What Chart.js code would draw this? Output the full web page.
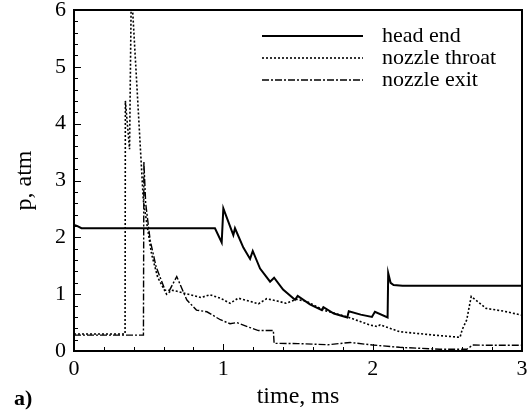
<!DOCTYPE html>
<html>
<head>
<meta charset="utf-8">
<script src="https://cdn.jsdelivr.net/npm/chart.js@4"></script>
<style>
  html, body { margin: 0; padding: 0; background: #fff; }
  #wrap { width: 531px; height: 411px; }
</style>
</head>
<body>
<div id="wrap"><canvas id="pressureChart"></canvas></div>
<script>
// ===== Data =====
const seriesNames = ['head end', 'nozzle throat', 'nozzle exit'];

const headTime = [0, 0.02, 0.05, 0.944, 0.989, 1.0, 1.067, 1.078, 1.134, 1.179, 1.197, 1.246, 1.313, 1.34, 1.40, 1.48, 1.498,
  1.58, 1.66, 1.67, 1.74, 1.83, 1.84, 1.92, 1.995, 2.015, 2.1, 2.104, 2.12, 2.14, 2.2, 3.0];
const headP = [2.22, 2.2, 2.16, 2.16, 1.91, 2.51, 2.04, 2.16, 1.82, 1.62, 1.76, 1.45, 1.22, 1.29, 1.08, 0.90, 0.97,
  0.82, 0.72, 0.77, 0.66, 0.59, 0.70, 0.64, 0.60, 0.69, 0.59, 1.37, 1.2, 1.16, 1.15, 1.15];

const throatTime = [0, 0.342, 0.344, 0.372, 0.384, 0.464, 0.49, 0.52, 0.56, 0.62, 0.655, 0.69, 0.78, 0.85, 0.91, 0.98,
  1.045, 1.10, 1.17, 1.235, 1.29, 1.36, 1.42, 1.49, 1.56, 1.67, 1.83, 1.98, 2.03, 2.05, 2.18, 2.41, 2.585, 2.60,
  2.63, 2.66, 2.76, 2.88, 3.0];
const throatP = [0.3, 0.3, 4.4, 3.55, 6.4, 2.66, 2.2, 1.7, 1.3, 1.0, 1.07, 1.05, 0.99, 0.94, 0.99, 0.93,
  0.84, 0.93, 0.88, 0.83, 0.92, 0.88, 0.84, 0.91, 0.87, 0.72, 0.60, 0.46, 0.43, 0.46, 0.34, 0.28, 0.24, 0.38,
  0.55, 0.96, 0.75, 0.70, 0.63];

const exitTime = [0, 0.465, 0.468, 0.48, 0.51, 0.55, 0.61, 0.64, 0.688, 0.755, 0.82, 0.89, 0.98, 1.045, 1.09, 1.17,
  1.235, 1.335, 1.34, 1.5, 1.7, 1.85, 2.0, 2.18, 2.45, 2.63, 2.67, 2.8, 3.0];
const exitP = [0.28, 0.28, 3.33, 2.6, 1.95, 1.48, 1.07, 1.07, 1.31, 0.9, 0.72, 0.69, 0.55, 0.48, 0.5, 0.42,
  0.36, 0.36, 0.135, 0.13, 0.11, 0.15, 0.105, 0.065, 0.03, 0.03, 0.105, 0.1, 0.1];

const timeRange = [0, 3];
const pressureRange = [0, 6];

const SERIF = '"Liberation Serif", "DejaVu Serif", serif';

function toPoints(ts, ps) {
    return ts.map((t, i) => ({ x: t, y: ps[i] }));
}

const dashes = [[], [2, 2], [7, 2, 2, 2]];
const widths = [2, 1.6, 1.4];

// ===== Frame, inward ticks, legend =====
const framePlugin = {
    id: 'framePlugin',
    afterDatasetsDraw(chart) {
        const { ctx, chartArea: a, scales: { x, y } } = chart;
        ctx.save();
        ctx.strokeStyle = '#000';
        ctx.lineWidth = 1;
        ctx.setLineDash([]);
        for (let i = 0; i <= 15; i++) {
            const px = Math.round(x.getPixelForValue(i * 0.2)) + 0.5;
            const len = i % 5 === 0 ? 7 : 4;
            ctx.beginPath();
            ctx.moveTo(px, a.bottom);
            ctx.lineTo(px, a.bottom - len);
            ctx.stroke();
        }
        for (let i = 0; i <= 30; i++) {
            const py = Math.round(y.getPixelForValue(i * 0.2)) + 0.5;
            const len = i % 5 === 0 ? 7 : 4;
            ctx.beginPath();
            ctx.moveTo(a.left, py);
            ctx.lineTo(a.left + len, py);
            ctx.stroke();
        }
        ctx.lineWidth = 2;
        ctx.strokeRect(a.left, a.top, a.right - a.left, a.bottom - a.top);

        // legend
        ctx.font = '22px ' + SERIF;
        ctx.fillStyle = '#000';
        ctx.textBaseline = 'middle';
        chart.data.datasets.forEach((ds, i) => {
            const ly = 36 + i * 22;
            ctx.lineWidth = widths[i];
            ctx.setLineDash(dashes[i]);
            ctx.beginPath();
            ctx.moveTo(262, ly);
            ctx.lineTo(363, ly);
            ctx.stroke();
            ctx.fillText(ds.label, 382, ly);
        });
        ctx.setLineDash([]);

        // panel label
        ctx.font = 'bold 22px ' + SERIF;
        ctx.fillText('a)', 14, 399);
        ctx.restore();
    }
};

const ctx = document.getElementById('pressureChart').getContext('2d');
const chart = new Chart(ctx, {
    type: 'line',
    data: {
        datasets: [
            { label: seriesNames[0], data: toPoints(headTime, headP) },
            { label: seriesNames[1], data: toPoints(throatTime, throatP) },
            { label: seriesNames[2], data: toPoints(exitTime, exitP) }
        ].map((d, i) => Object.assign(d, {
            borderColor: '#000',
            borderWidth: widths[i],
            borderDash: dashes[i],
            pointRadius: 0,
            tension: 0,
            fill: false
        }))
    },
    options: {
        responsive: true,
        maintainAspectRatio: false,
        animation: false,
        layout: { padding: { top: 10, right: 9, bottom: 0, left: 0 } },
        plugins: { legend: { display: false }, tooltip: { enabled: false } },
        scales: {
            x: {
                type: 'linear',
                min: timeRange[0], max: timeRange[1],
                grid: { display: false },
                border: { display: false },
                ticks: { stepSize: 1, color: '#000', padding: -3, maxRotation: 0,
                         font: { family: SERIF, size: 22 } },
                title: { display: true, text: 'time, ms', color: '#000', padding: { top: 0, bottom: 0 },
                         font: { family: SERIF, size: 24 } },
                afterFit(s) { s.height = 60; s.paddingLeft = 0; s.paddingRight = 0; }
            },
            y: {
                min: pressureRange[0], max: pressureRange[1],
                grid: { display: false },
                border: { display: false },
                ticks: { stepSize: 1, color: '#000', padding: 0,
                         font: { family: SERIF, size: 22 } },
                title: { display: true, text: 'p, atm', color: '#000', padding: { top: 10, bottom: 0 },
                         font: { family: SERIF, size: 24 } },
                afterFit(s) { s.width = 74; s.paddingTop = 0; s.paddingBottom = 0; }
            }
        }
    },
    plugins: [framePlugin]
});
</script>
</body>
</html>
